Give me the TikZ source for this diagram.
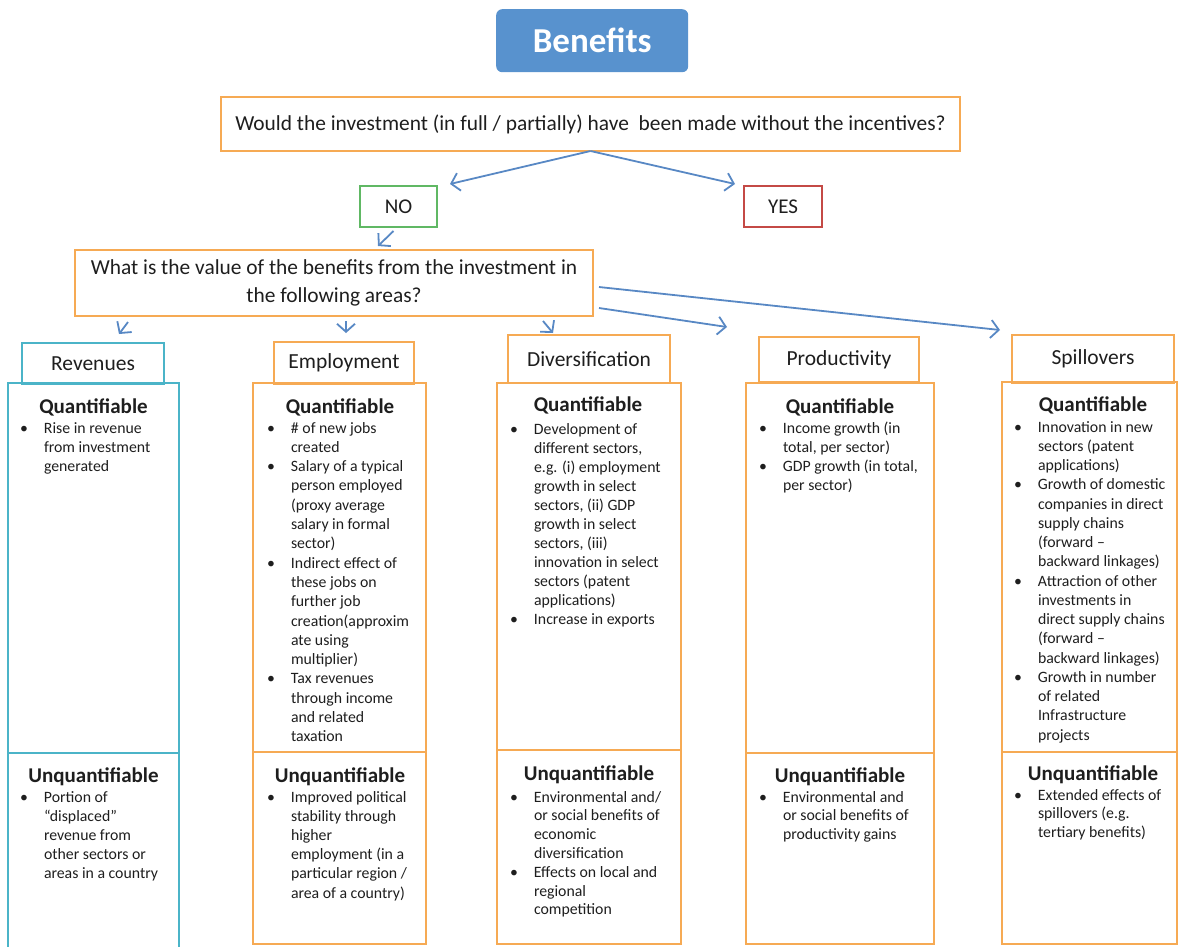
\documentclass[tikz,border=0pt]{standalone}
\usepackage{fontspec}
\setmainfont{Carlito}
\usetikzlibrary{arrows.meta,calc}
\definecolor{arrowblue}{RGB}{88,136,196}
\definecolor{boxorange}{RGB}{246,170,84}
\definecolor{boxcyan}{RGB}{75,180,200}
\definecolor{nogreen}{RGB}{96,184,100}
\definecolor{yesred}{RGB}{196,74,70}
\definecolor{benblue}{RGB}{88,146,206}
\definecolor{textgray}{RGB}{30,30,30}
\newcommand\mkbox[7]{\node[#6, anchor=north west, minimum width=#4-#2, minimum height=#5-#3] (#1) at (#2,#3) {#7};}
\newcommand\blist[2]{{\fontsize{15.8}{#1}\selectfont\begin{tabular}[t]{@{}p{24pt}@{}l@{}}#2\end{tabular}}}
\newcommand\bu{\textbullet}
\tikzset{
  arr/.style={draw=arrowblue, line width=1.8pt, -{Straight Barb[length=8pt,width=18pt]}},
  obox/.style={draw=boxorange, line width=2pt, outer sep=0pt, inner sep=0pt, text=textgray},
  cbox/.style={draw=boxcyan, line width=2pt, outer sep=0pt, inner sep=0pt, text=textgray},
  lbl/.style={font=\fontsize{21.5}{25}\selectfont},
  txt/.style={inner sep=0pt, outer sep=0pt, text=textgray, anchor=base west},
  head/.style={inner sep=0pt, outer sep=0pt, font=\fontsize{21}{25}\selectfont\bfseries, text=textgray, anchor=base},
}
\begin{document}
\begin{tikzpicture}[x=1pt,y=-1pt]
\useasboundingbox (0,0) rectangle (1178,946);
% top
\node[fill=benblue, rounded corners=6pt, anchor=north west, minimum width=192, minimum height=63, inner sep=0pt,
      font=\fontsize{35}{40}\selectfont\bfseries, text=white] (ben) at (496,9) {Benefits};
\mkbox{q1}{221}{97}{960}{151}{obox, font=\fontsize{21.4}{26}\selectfont}{Would the investment (in full / partially) have\ \ been made without the incentives?}
\mkbox{no}{360}{186}{437}{227}{obox, draw=nogreen, font=\fontsize{21}{25}\selectfont}{NO}
\mkbox{yes}{744}{186}{822}{227}{obox, draw=yesred, font=\fontsize{21}{25}\selectfont}{YES}
\mkbox{what}{75}{250}{593}{316}{obox, align=center, font=\fontsize{21.4}{28}\selectfont}{What is the value of the benefits from the investment in\\the following areas?}
% headers
\mkbox{rev}{22}{343}{164}{384}{cbox, lbl}{Revenues}
\mkbox{emp}{274}{342}{414}{384}{obox, lbl}{Employment}
\mkbox{div}{508}{335}{670}{383}{obox, lbl}{Diversification}
\mkbox{prod}{759}{337}{919}{382}{obox, lbl}{Productivity}
\mkbox{spill}{1012}{335}{1174}{383}{obox, lbl}{Spillovers}
% columns
\mkbox{revQ}{8}{383}{179}{753}{cbox}{}
\mkbox{revU}{8}{753}{179}{955}{cbox}{}
\mkbox{empQ}{253}{383}{426}{752}{obox}{}
\mkbox{empU}{253}{752}{426}{944}{obox}{}
\mkbox{divQ}{497}{383}{681}{750}{obox}{}
\mkbox{divU}{497}{750}{681}{944}{obox}{}
\mkbox{prodQ}{746}{383}{934}{753}{obox}{}
\mkbox{prodU}{746}{753}{934}{944}{obox}{}
\mkbox{spillQ}{1002}{382}{1177}{752}{obox}{}
\mkbox{spillU}{1002}{752}{1177}{944}{obox}{}
% headings
\node[head] (revQh) at (93.5,413) {Quantifiable};
\node[head] (revUh) at (93.5,782) {Unquantifiable};
\node[head] (empQh) at (340,413) {Quantifiable};
\node[head] (empUh) at (340,782) {Unquantifiable};
\node[head] (divQh) at (588,411) {Quantifiable};
\node[head] (divUh) at (589,780) {Unquantifiable};
\node[head] (prodQh) at (840,413) {Quantifiable};
\node[head] (prodUh) at (840,782) {Unquantifiable};
\node[head] (spillQh) at (1093,411) {Quantifiable};
\node[head] (spillUh) at (1093,780) {Unquantifiable};
% lists
\node[txt] (revQt) at (20,433) {\blist{19}{\bu & Rise in revenue\\ & from investment\\ & generated}};
\node[txt] (revUt) at (20,802) {\blist{19}{\bu & Portion of\\ & “displaced”\\ & revenue from\\ & other sectors or\\ & areas in a country}};
\node[txt] (empQt) at (267,433) {\blist{19.3}{\bu & \# of new jobs\\ & created\\ \bu & Salary of a typical\\ & person employed\\ & (proxy average\\ & salary in formal\\ & sector)\\ \bu & Indirect effect of\\ & these jobs on\\ & further job\\ & creation(approxim\\ & ate using\\ & multiplier)\\ \bu & Tax revenues\\ & through income\\ & and related\\ & taxation}};
\node[txt] (empUt) at (267,802) {\blist{19.2}{\bu & Improved political\\ & stability through\\ & higher\\ & employment (in a\\ & particular region /\\ & area of a country)}};
\node[txt] (divQt) at (510,434) {\blist{19}{\bu & Development of\\ & different sectors,\\ & e.g. (i) employment\\ & growth in select\\ & sectors, (ii) GDP\\ & growth in select\\ & sectors, (iii)\\ & innovation in select\\ & sectors (patent\\ & applications)\\ \bu & Increase in exports}};
\node[txt] (divUt) at (510,802) {\blist{18.8}{\bu & Environmental and/\\ & or social benefits of\\ & economic\\ & diversification\\ \bu & Effects on local and\\ & regional\\ & competition}};
\node[txt] (prodQt) at (759,433) {\blist{19}{\bu & Income growth (in\\ & total, per sector)\\ \bu & GDP growth (in total,\\ & per sector)}};
\node[txt] (prodUt) at (759,802) {\blist{18.6}{\bu & Environmental and\\ & or social benefits of\\ & productivity gains}};
\node[txt] (spillQt) at (1014,432) {\blist{19.25}{\bu & Innovation in new\\ & sectors (patent\\ & applications)\\ \bu & Growth of domestic\\ & companies in direct\\ & supply chains\\ & (forward –\\ & backward linkages)\\ \bu & Attraction of other\\ & investments in\\ & direct supply chains\\ & (forward –\\ & backward linkages)\\ \bu & Growth in number\\ & of related\\ & Infrastructure\\ & projects}};
\node[txt] (spillUt) at (1014,800) {\blist{18.5}{\bu & Extended effects of\\ & spillovers (e.g.\\ & tertiary benefits)}};
% arrows
\coordinate (noTip) at (450,184);
\coordinate (yesTip) at (735,184);
\coordinate (whatTip) at (378,246);
\coordinate (revTip) at (119,334);
\coordinate (empTip) at (346,333);
\coordinate (divTip) at (553,333);
\coordinate (prodTip) at (727,327);
\coordinate (spillTip) at (1000,330);
\draw[arr] (q1.south) -- (noTip);
\draw[arr] (q1.south) -- (yesTip);
\draw[arr] ($(no.south)+(-5,4)$) -- (whatTip);
\draw[arr] ($(what.south west)+(53,6)$) -- (revTip);
\draw[arr] ($(what.south west)+(271,5)$) -- (empTip);
\draw[arr] ($(what.south west)+(468,5)$) -- (divTip);
\draw[arr] ($(what.south east)+(6,-8)$) -- (prodTip);
\draw[arr] ($(what.north east)+(6,37)$) -- (spillTip);
\end{tikzpicture}
\end{document}
